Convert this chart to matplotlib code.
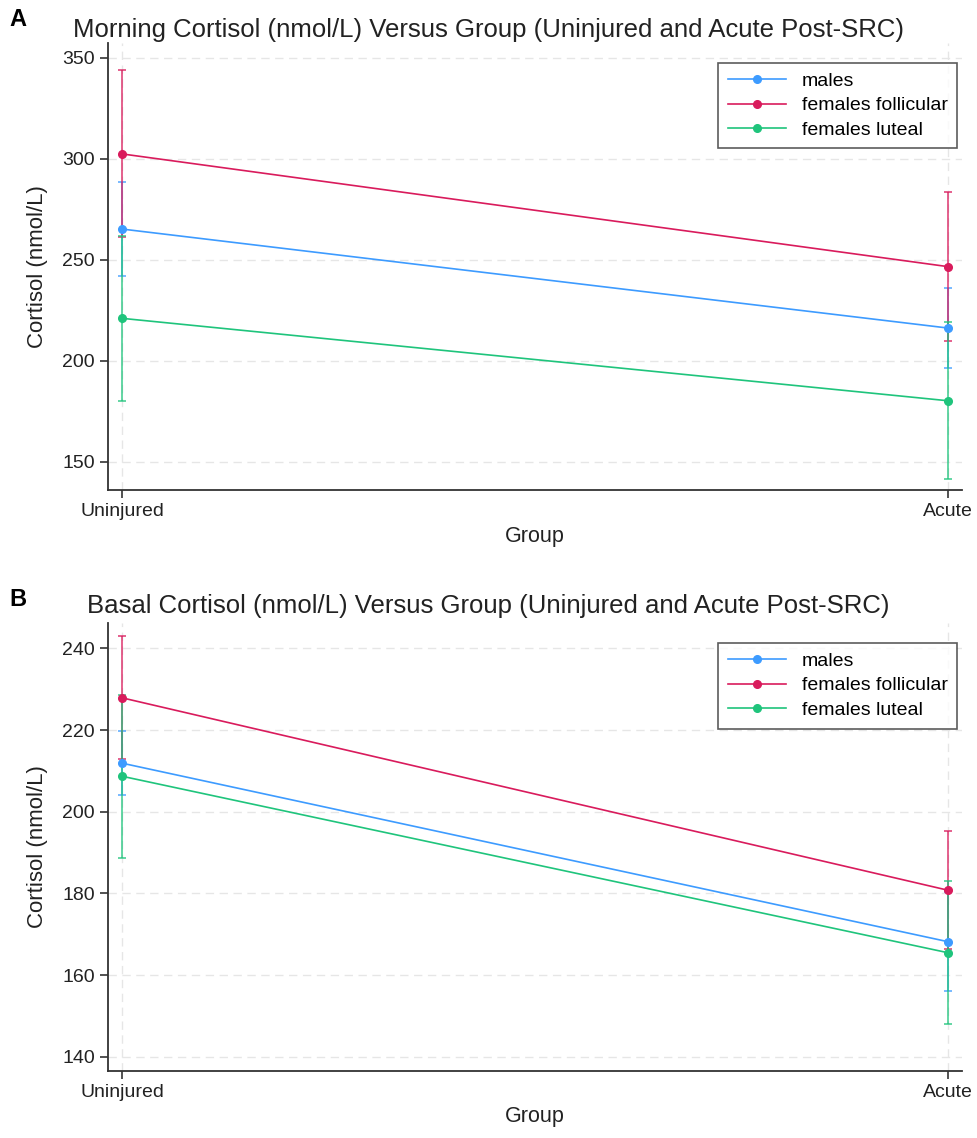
import matplotlib.pyplot as plt

plt.rcParams["font.family"] = ["Liberation Sans", "DejaVu Sans"]

groups = ["Uninjured", "Acute"]
series = ["males", "females follicular", "females luteal"]
colors = ["#3d9bff", "#d91b5c", "#1fc47c"]

# Panel A: morning cortisol (mean, lower CI, upper CI)
a_mean = [[265.3, 216.3], [302.5, 246.7], [221.1, 180.3]]
a_low = [[242.0, 196.4], [261.4, 210.0], [180.0, 141.4]]
a_high = [[288.6, 236.3], [344.0, 283.4], [262.0, 219.2]]

# Panel B: basal cortisol
b_mean = [[211.9, 168.2], [227.9, 180.8], [208.7, 165.5]]
b_low = [[204.1, 156.1], [212.8, 166.4], [188.7, 148.0]]
b_high = [[219.8, 180.3], [243.0, 195.3], [228.6, 183.1]]

a_ticks = [150, 200, 250, 300, 350]
b_ticks = [140, 160, 180, 200, 220, 240]

fig = plt.figure(figsize=(9.77, 11.38), dpi=100)


def draw_panel(ax, means, lows, highs, yticks, ylim, title, letter, title_y, letter_y):
    x = [0, 1]
    for i, name in enumerate(series):
        yerr = [[m - l for m, l in zip(means[i], lows[i])],
                [h - m for m, h in zip(means[i], highs[i])]]
        ax.errorbar(x, means[i], yerr=yerr, fmt="none", ecolor=colors[i],
                    elinewidth=1.3, capsize=3, capthick=1.3, alpha=0.75, zorder=2)
        ax.plot(x, means[i], color=colors[i], lw=1.2, marker="o", ms=5.5,
                label=name, zorder=3)
    ax.set_xlim(-0.017, 1.017)
    ax.set_ylim(*ylim)
    ax.set_xticks(x)
    ax.set_xticklabels(groups)
    ax.set_yticks(yticks)
    ax.grid(True, color="#e6e6e6", ls=(0, (6, 4)), lw=1)
    ax.set_axisbelow(True)
    for s in ["top", "right"]:
        ax.spines[s].set_visible(False)
    for s in ["left", "bottom"]:
        ax.spines[s].set_color("#333333")
        ax.spines[s].set_linewidth(1.3)
    ax.tick_params(axis="both", labelsize=14, length=6, width=1.2, color="#333333",
                   labelcolor="#222222")
    ax.set_xlabel("Group", fontsize=15.5, color="#222222")
    ax.set_ylabel("Cortisol (nmol/L)", fontsize=16, color="#222222", labelpad=10)
    leg = ax.legend(loc="upper right", bbox_to_anchor=(1.006, 0.978), fontsize=14,
                    frameon=True, fancybox=False, edgecolor="#333333",
                    handlelength=3.0, borderpad=0.5, labelspacing=0.35)
    leg.get_frame().set_linewidth(1.2)
    fig.text(0.5, title_y, title, ha="center", va="center", fontsize=18.5,
             color="#222222")
    fig.text(0.01, letter_y, letter, ha="left", va="center", fontsize=17,
             fontweight="bold")


ax1 = fig.add_axes([0.1105, 0.5694, 0.874, 0.3928])
draw_panel(ax1, a_mean, a_low, a_high, a_ticks, (136.1, 357.4),
           "Morning Cortisol (nmol/L) Versus Group (Uninjured and Acute Post-SRC)",
           "A", 1 - 30 / 1138, 1 - 20 / 1138)

ax2 = fig.add_axes([0.1105, 0.0591, 0.874, 0.3934])
draw_panel(ax2, b_mean, b_low, b_high, b_ticks, (136.6, 246.2),
           "Basal Cortisol (nmol/L) Versus Group (Uninjured and Acute Post-SRC)",
           "B", 1 - 606 / 1138, 1 - 599 / 1138)

fig.savefig("out.png", dpi=100)
